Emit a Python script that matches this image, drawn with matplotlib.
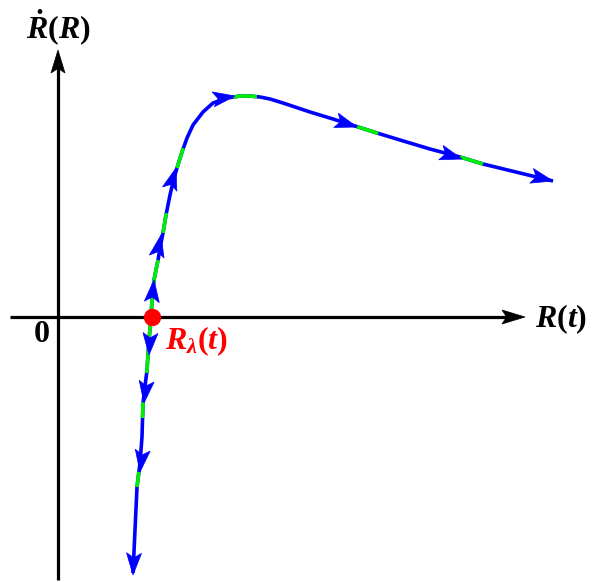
import numpy as np
import matplotlib
matplotlib.use('Agg')
import matplotlib.pyplot as plt
from matplotlib.patches import Polygon
from matplotlib.transforms import IdentityTransform

plt.rcParams['mathtext.fontset'] = 'custom'
plt.rcParams['mathtext.it'] = 'Liberation Serif:italic:bold'
plt.rcParams['mathtext.rm'] = 'Liberation Serif:bold'
plt.rcParams['mathtext.bf'] = 'Liberation Serif:bold:italic'
plt.rcParams['mathtext.default'] = 'it'

# ---- data (phase portrait, origin at axes crossing) ----
upper_x = [0.93, 0.94, 0.96, 1.00, 1.03, 1.05, 1.08, 1.12, 1.16, 1.19, 1.24, 1.29, 1.35,
           1.45, 1.55, 1.69, 1.82, 1.92, 2.02, 2.12, 2.25, 2.52, 2.75, 2.97, 3.19, 3.42,
           3.72, 4.02, 4.25, 4.62, 4.95]
upper_y = [0.00, 0.17, 0.37, 0.57, 0.74, 0.84, 1.02, 1.22, 1.39, 1.49, 1.65, 1.79, 1.92,
           2.05, 2.14, 2.19, 2.21, 2.21, 2.20, 2.18, 2.14, 2.05, 1.98, 1.91, 1.84, 1.77,
           1.68, 1.60, 1.53, 1.44, 1.36]
lower_x = [0.93, 0.91, 0.89, 0.85, 0.84, 0.82, 0.79, 0.75]
lower_y = [0.00, -0.23, -0.53, -0.86, -1.20, -1.46, -1.70, -2.56]

# green stretches (start point, end point) on each branch
upper_green = [((0.93, 0.00), (1.00, 0.57)), ((1.05, 0.84), (1.08, 1.04)),
               ((1.19, 1.49), (1.25, 1.69)), ((1.75, 2.21), (1.99, 2.21)),
               ((2.99, 1.90), (3.20, 1.83)), ((4.02, 1.60), (4.25, 1.53))]
lower_green = [((0.93, 0.00), (0.89, -0.56)), ((0.85, -0.85), (0.84, -1.01)),
               ((0.82, -1.55), (0.79, -1.70))]

# arrow tips on each branch
upper_tips = [(0.96, 0.37), (1.03, 0.82), (1.18, 1.49), (1.77, 2.21),
              (2.99, 1.90), (4.04, 1.58), (4.95, 1.36)]
lower_tips = [(0.91, -0.38), (0.86, -0.86), (0.82, -1.55), (0.75, -2.58)]

equilibrium = (0.937, 0.0)

BLUE = '#0000ff'
GREEN = '#00ee00'

fig = plt.figure(figsize=(5.92, 5.82), dpi=100)
ax = fig.add_axes([0, 0, 1, 1])
ax.set_xlim(-0.58, 5.34)
ax.set_ylim(-2.65, 3.17)
ax.axis('off')


def arclen(x, y):
    return np.concatenate([[0], np.cumsum(np.hypot(np.diff(x), np.diff(y)))])


def project(x, y, p):
    s = arclen(x, y)
    best = (1e9, 0.0, 0)
    for i in range(len(x) - 1):
        a = np.array([x[i], y[i]]); b = np.array([x[i + 1], y[i + 1]])
        d = b - a
        t = np.clip(np.dot(np.array(p) - a, d) / np.dot(d, d), 0, 1)
        q = a + t * d
        dist = np.hypot(*(np.array(p) - q))
        if dist < best[0]:
            best = (dist, s[i] + t * (s[i + 1] - s[i]), i)
    return best[1], best[2]


def sub_curve(x, y, s0, s1):
    s = arclen(x, y)
    ss = np.linspace(s0, s1, 30)
    return np.interp(ss, s, x), np.interp(ss, s, y)


def arrowhead(xd, yd, dx, dy, color, L=22, W=15, notch=0.78, z=5):
    tip = ax.transData.transform((xd, yd))
    d = ax.transData.transform((xd + dx, yd + dy)) - ax.transData.transform((xd, yd))
    u = d / np.hypot(*d)
    n = np.array([-u[1], u[0]])
    verts = [tip, tip - L * u + W / 2 * n, tip - notch * L * u, tip - L * u - W / 2 * n]
    ax.add_patch(Polygon(verts, closed=True, facecolor=color, edgecolor=color,
                         lw=0.5, transform=IdentityTransform(), zorder=z))


# axes
ax.plot([-0.48, 4.60], [0, 0], color='black', lw=2.3, solid_capstyle='butt', zorder=1)
ax.plot([0, 0], [-2.63, 2.60], color='black', lw=2.3, solid_capstyle='butt', zorder=1)
arrowhead(4.67, 0.0, 1, 0, 'black', L=23, W=14, notch=0.8)
arrowhead(0.0, 2.67, 0, 1, 'black', L=23, W=14, notch=0.8)

# curve branches
for bx, by, greens, tips in [(upper_x, upper_y, upper_green, upper_tips),
                             (lower_x, lower_y, lower_green, lower_tips)]:
    ax.plot(bx, by, color=BLUE, lw=2.6, solid_capstyle='butt', solid_joinstyle='round',
            zorder=2)
    for p0, p1 in greens:
        s0, _ = project(bx, by, p0)
        s1, _ = project(bx, by, p1)
        gx, gy = sub_curve(bx, by, s0, s1)
        ax.plot(gx, gy, color=GREEN, lw=2.6, solid_capstyle='butt', zorder=3)
    for tx, ty in tips:
        _, i = project(bx, by, (tx, ty))
        arrowhead(tx, ty, bx[i + 1] - bx[i], by[i + 1] - by[i], BLUE)

ax.plot([equilibrium[0]], [equilibrium[1]], 'o', color='#ff0000', ms=11.5, zorder=6)

fs = 23
ax.text(0.0, 2.89, r'$\dot{R}(R)$', fontsize=fs, ha='center', va='center', color='black')
ax.text(4.77, -0.02, r'$R(t)$', fontsize=fs, ha='left', va='center', color='black')
ax.text(-0.16, -0.18, '0', fontsize=fs, ha='center', va='center', color='black',
        family='Liberation Serif', fontweight='bold')
ax.text(1.07, -0.24, r'$R_{\lambda}(t)$', fontsize=fs, ha='left', va='center', color='#ff0000')

fig.savefig('out.png', dpi=100)
